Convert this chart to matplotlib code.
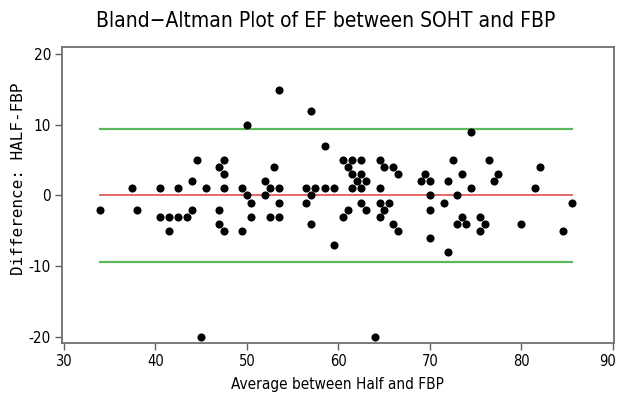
import matplotlib
matplotlib.use("Agg")
import matplotlib.pyplot as plt
from matplotlib import font_manager as fm
from matplotlib.transforms import ScaledTranslation

# Average between Half and FBP (x) and Difference HALF-FBP (y)
avg = [34, 37.5, 38, 40.5, 40.5, 41.5, 41.5, 42.5, 42.5, 43.5, 44, 44, 44.5, 45, 45.5,
       47, 47, 47, 47.5, 47.5, 47.5, 47.5, 49.5, 49.5, 50, 50, 50.5, 50.5, 52, 52,
       52.5, 52.5, 53, 53.5, 53.5, 53.5, 53.5, 56.5, 56.5, 57, 57, 57, 57.5, 58.5, 58.5,
       59.5, 59.5, 60.5, 60.5, 61, 61, 61.5, 61.5, 61.5, 62, 62.5, 62.5, 62.5, 62.5, 63,
       63, 64, 64.5, 64.5, 64.5, 64.5, 65, 65, 65.5, 66, 66, 66.5, 66.5, 69, 69.5,
       70, 70, 70, 70, 71.5, 72, 72, 72.5, 73, 73, 73.5, 73.5, 74, 74.5, 74.5,
       75.5, 75.5, 76, 76.5, 77, 77.5, 80, 81.5, 82, 84.5, 85.5]
diff = [-2, 1, -2, 1, -3, -3, -5, 1, -3, -3, 2, -2, 5, -20, 1,
        4, -2, -4, 5, 3, 1, -5, 1, -5, 10, 0, -1, -3, 2, 0,
        1, -3, 4, 15, 1, -1, -3, 1, -1, 12, 0, -4, 1, 7, 1,
        1, -7, 5, -3, 4, -2, 5, 3, 1, 2, 5, 3, 1, -1, 2,
        -2, -20, 5, 1, -1, -3, 4, -2, -1, 4, -4, 3, -5, 2, 3,
        2, 0, -2, -6, -1, 2, -8, 5, 0, -4, 3, -3, -4, 9, 1,
        -3, -5, -4, 5, 2, 3, -4, 1, 4, -5, -1]

mean_diff = 0.05
upper_loa = 9.45
lower_loa = -9.4

xticks = [30, 40, 50, 60, 70, 80, 90]
yticks = [-20, -10, 0, 10, 20]

title = "Bland\u2212Altman Plot of EF between SOHT and FBP"
xlabel = "Average between Half and FBP"
ylabel = "Difference: HALF-FBP"

names = {f.name for f in fm.fontManager.ttflist}
if "Liberation Sans Narrow" in names:
    narrow = dict(family=["Liberation Sans Narrow", "DejaVu Sans"])
else:
    narrow = dict(family=["DejaVu Sans"], stretch="condensed")

fig = plt.figure(figsize=(6.2, 4.04), dpi=100)
ax = fig.add_axes([0.1, 0.151, 0.890, 0.733])

xmin, xmax = min(avg), max(avg)
ax.plot([xmin, xmax], [mean_diff, mean_diff], color="#e35d5d", lw=1.3, zorder=1)
ax.plot([xmin, xmax], [upper_loa, upper_loa], color="#5db85d", lw=1.6, zorder=1)
ax.plot([xmin, xmax], [lower_loa, lower_loa], color="#5db85d", lw=1.6, zorder=1)
ax.scatter(avg, diff, s=34, color="black", zorder=3, linewidths=0)

ax.set_xlim(29.8, 90.1)
ax.set_ylim(-20.9, 21.05)
ax.set_xticks(xticks)
ax.set_yticks(yticks)
ax.set_xticklabels([str(t) for t in xticks], fontsize=10.5, **narrow)
ax.set_yticklabels([str(t) for t in yticks], fontsize=11, **narrow)
ax.tick_params(direction="out", length=5, width=1, color="#606060", pad=3)
for sp in ax.spines.values():
    sp.set_color("#707070")
    sp.set_linewidth(1.3)

last = ax.get_xticklabels()[-1]
last.set_transform(last.get_transform() + ScaledTranslation(-5 / 100, 0, fig.dpi_scale_trans))

fig.text(0.525, 0.947, title, ha="center", va="center", fontsize=15, **narrow)
ax.set_xlabel(xlabel, fontsize=11, labelpad=6, **narrow)
fig.text(0.03, 1 - 179 / 404, ylabel, rotation=90, ha="center", va="center",
         family=["DejaVu Sans Mono"], fontsize=11.5)

fig.savefig("out.png", dpi=100)
